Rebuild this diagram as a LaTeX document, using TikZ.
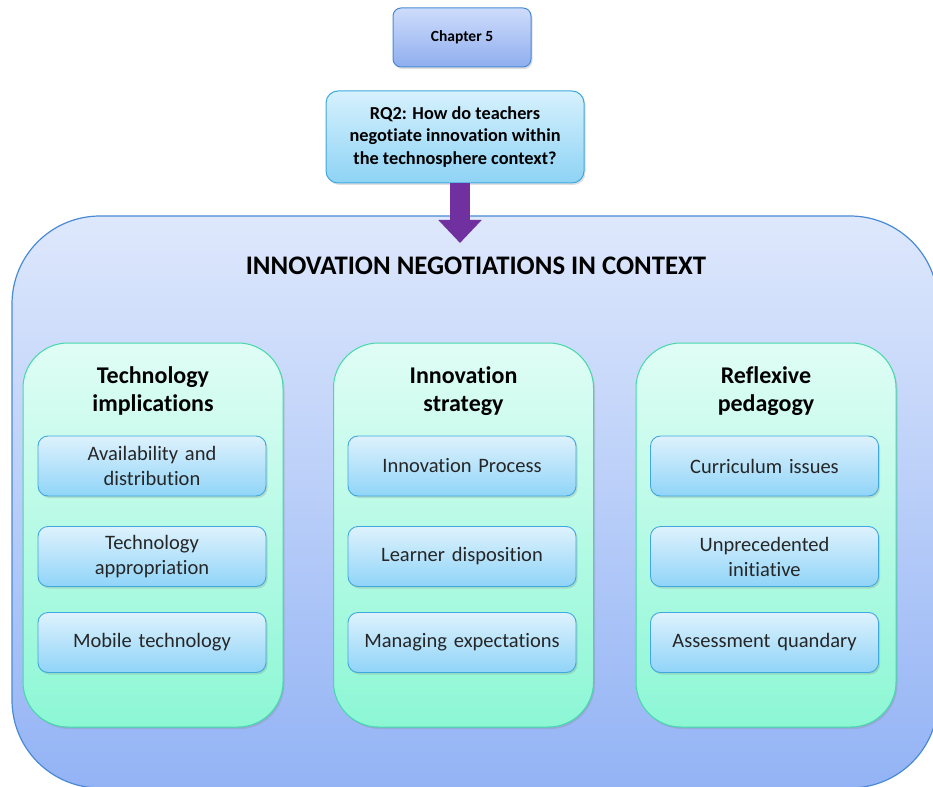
\documentclass[tikz,border=0pt]{standalone}
\usepackage{fontspec}
\setmainfont{Carlito}[Ligatures=NoCommon]
\usetikzlibrary{shadows,arrows.meta}
\definecolor{outerTop}{HTML}{DEE8FC}
\definecolor{outerBot}{HTML}{93B3F5}
\definecolor{outerLine}{HTML}{4A8AD4}
\definecolor{colTop}{HTML}{E0FDF5}
\definecolor{colBot}{HTML}{8CF7D4}
\definecolor{colLine}{HTML}{45D8AA}
\definecolor{subTop}{HTML}{DEF2FD}
\definecolor{subBot}{HTML}{90D4F8}
\definecolor{subLine}{HTML}{3FA8DE}
\definecolor{chTop}{HTML}{CEDCFB}
\definecolor{chBot}{HTML}{8FAEEF}
\definecolor{rqTop}{HTML}{D6F1FD}
\definecolor{rqBot}{HTML}{8ED3F5}
\definecolor{arrowPurple}{HTML}{7030A0}
\definecolor{subText}{HTML}{262626}
\begin{document}
\begin{tikzpicture}[x=1pt,y=-1pt,
  shad/.style={drop shadow={opacity=0.25,shadow xshift=1.5pt,shadow yshift=-2pt}},
  outerbox/.style={draw=outerLine,line width=1.2pt,rounded corners=88pt,
    top color=outerTop,bottom color=outerBot,minimum width=926pt,minimum height=572pt},
  colbox/.style={draw=colLine,line width=1pt,rounded corners=45pt,shad,
    top color=colTop,bottom color=colBot,minimum width=260pt,minimum height=384pt},
  subbox/.style={draw=subLine,line width=0.9pt,rounded corners=10pt,shad,
    top color=subTop,bottom color=subBot,minimum width=228pt,minimum height=60pt,
    inner sep=2pt,text width=222pt,align=center,font=\fontsize{20.5}{25}\selectfont,text=subText},
  coltitle/.style={align=center,font=\bfseries\fontsize{24}{28}\selectfont},
  chbox/.style={draw=outerLine,line width=1pt,rounded corners=8pt,shad,
    top color=chTop,bottom color=chBot,minimum width=138pt,minimum height=59pt,
    font=\bfseries\fontsize{15.5}{18}\selectfont},
  rqbox/.style={draw=subLine,line width=1pt,rounded corners=12pt,shad,
    top color=rqTop,bottom color=rqBot,minimum width=258pt,minimum height=92pt,
    align=center,font=\bfseries\fontsize{18.3}{22.5}\selectfont}
]
\useasboundingbox (0,0) rectangle (933,786);
\begin{scope}
\clip (0,0) rectangle (933,786);
\node[outerbox] (outer) at (475,502) {};
\node[font=\bfseries\fontsize{26.8}{30}\selectfont] (title) at (476,266) {INNOVATION NEGOTIATIONS IN CONTEXT};

\node[chbox] (ch) at (462,37.5) {Chapter 5};
\node[rqbox] (rq) at (455,137) {RQ2: How do teachers\\negotiate innovation within\\the technosphere context?};
\coordinate (arrowend) at (460,243);
\draw[arrowPurple,line width=20pt,-{Triangle[width=42pt,length=23pt]}]
  (rq.south -| arrowend) -- (arrowend);

% columns
\node[colbox] (c1) at (153,535) {};
\node[colbox] (c2) at (463.5,535) {};
\node[colbox] (c3) at (766,535) {};

\node[coltitle] (t1) at (153,391) {Technology\\implications};
\node[coltitle] (t2) at (463.5,391) {Innovation\\strategy};
\node[coltitle] (t3) at (766,391) {Reflexive\\pedagogy};

\node[subbox] (a1) at (152,466) {Availability and\\distribution};
\node[subbox] (a2) at (152,556.5) {Technology\\appropriation};
\node[subbox] (a3) at (152,642.5) {Mobile technology};

\node[subbox] (b1) at (462,466) {Innovation Process};
\node[subbox] (b2) at (462,556.5) {Learner disposition};
\node[subbox] (b3) at (462,642.5) {Managing expectations};

\node[subbox] (d1) at (764.5,466) {Curriculum issues};
\node[subbox] (d2) at (764.5,556.5) {Unprecedented\\initiative};
\node[subbox] (d3) at (764.5,642.5) {Assessment quandary};
\end{scope}
\end{tikzpicture}
\end{document}
